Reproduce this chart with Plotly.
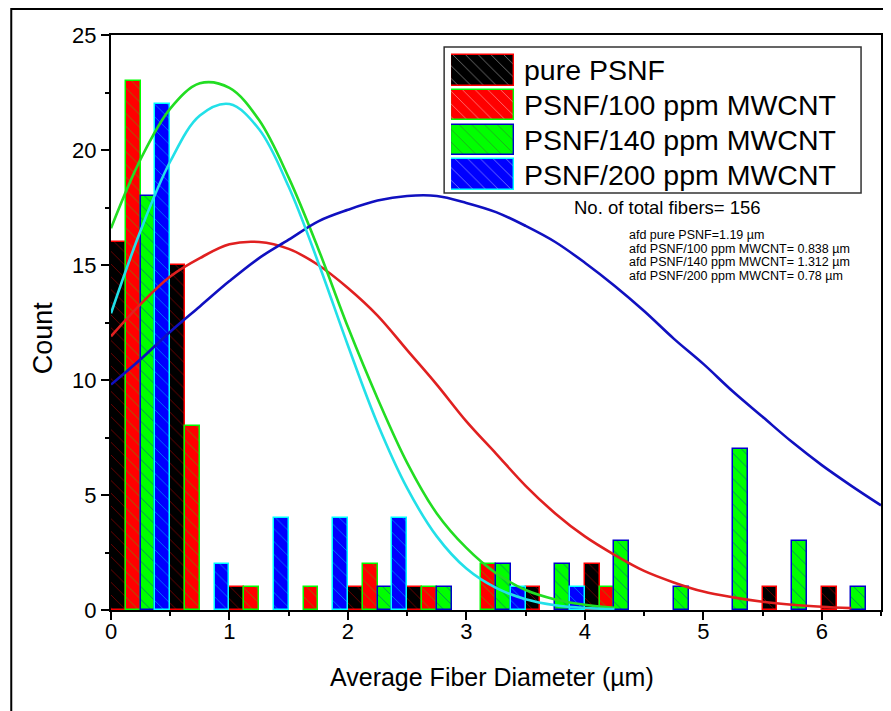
import plotly.graph_objects as go

# ---------------- data ----------------
bin_centers = [0.25, 0.75, 1.25, 1.75, 2.25, 2.75, 3.25, 3.75, 4.25, 4.75, 5.25, 5.75, 6.25]
series_names = ["pure PSNF", "PSNF/100 ppm MWCNT", "PSNF/140 ppm MWCNT", "PSNF/200 ppm MWCNT"]
counts_pure = [16, 15, 1, 0, 1, 1, 0, 1, 2, 0, 0, 1, 1]
counts_100 = [23, 8, 1, 1, 2, 1, 2, 0, 1, 0, 0, 0, 0]
counts_140 = [18, 0, 0, 0, 1, 1, 2, 2, 3, 1, 7, 3, 1]
counts_200 = [22, 2, 4, 4, 4, 0, 1, 1, 0, 0, 0, 0, 0]

# fitted distribution curves
curve_x = [0, 0.25, 0.5, 0.75, 1.0, 1.25, 1.5, 1.75, 2.0, 2.25, 2.5, 2.75, 3.0, 3.25,
           3.5, 3.75, 4.0, 4.25, 4.5, 4.75, 5.0, 5.25, 5.5, 5.75, 6.0, 6.25, 6.5]
fit_pure = [11.9, 13.3, 14.5, 15.3, 15.9, 16.0, 15.7, 15.0, 14.0, 12.8, 11.3, 9.8, 8.2, 6.8,
            5.4, 4.2, 3.2, 2.4, 1.7, 1.2, 0.8, 0.55, 0.36, 0.23, 0.14, 0.08]
fit_100 = [16.6, 19.6, 21.8, 22.9, 22.7, 21.3, 18.8, 15.7, 12.3, 9.2, 6.4, 4.2, 2.7, 1.6,
           0.87, 0.46, 0.23, 0.1]
fit_140 = [9.8, 10.9, 12.1, 13.2, 14.3, 15.3, 16.1, 16.9, 17.4, 17.8, 18.0, 18.0, 17.7, 17.3,
           16.7, 16.0, 15.1, 14.1, 13.0, 11.8, 10.7, 9.5, 8.4, 7.3, 6.3, 5.4, 4.55]
fit_200 = [12.9, 16.5, 19.5, 21.5, 22.0, 20.9, 18.4, 15.1, 11.5, 8.1, 5.3, 3.2, 1.8, 0.96,
           0.47, 0.21, 0.09, 0.04]

total_fibers = 156
afd_labels = ["afd pure PSNF=1.19 \u00b5m",
              "afd PSNF/100 ppm MWCNT= 0.838 \u00b5m",
              "afd PSNF/140 ppm MWCNT= 1.312 \u00b5m",
              "afd PSNF/200 ppm MWCNT= 0.78 \u00b5m"]

x_ticks = [0, 1, 2, 3, 4, 5, 6]
y_ticks = [0, 5, 10, 15, 20, 25]

# ---------------- styles ----------------
FONT = "Arial, Liberation Sans, sans-serif"
fills = ["#000000", "#ff0000", "#00ff00", "#0000ff"]
edges = ["#ff0000", "#00ff00", "#0000cc", "#00ffff"]
curve_colors = ["#e02020", "#22dd22", "#1010c0", "#22e0e8"]

# page body adds an 8px offset; lay out in window pixels
OFF = 8
WIN_W, WIN_H = 891, 711
PL, PR, PT, PB = 111, 883, 35, 610        # plot area in window pixels
W, H = WIN_W - OFF, WIN_H - OFF
ML, MR, MT, MB = PL - OFF, WIN_W - PR, PT - OFF, WIN_H - PB
PW, PH = PR - PL, PB - PT


def px(x):
    return (x - PL) / PW


def py(y):
    return (PB - y) / PH


fig = go.Figure()

all_counts = [counts_pure, counts_100, counts_140, counts_200]
for name, cnt, fc, ec in zip(series_names, all_counts, fills, edges):
    fig.add_trace(go.Bar(
        x=bin_centers, y=[v if v else None for v in cnt], name=name,
        marker=dict(color=fc, line=dict(color=ec, width=1.5),
                    pattern=dict(shape="\\", fgcolor=ec, fgopacity=0.45, size=9, solidity=0.1)),
        showlegend=False,
    ))

for fit, col in zip([fit_pure, fit_100, fit_140, fit_200], curve_colors):
    fig.add_trace(go.Scatter(
        x=curve_x[:len(fit)], y=fit, mode="lines", line=dict(color=col, width=2.6, shape="spline"),
        showlegend=False, hoverinfo="skip",
    ))

# legend key drawn as bars on a small auxiliary axis pair
fig.add_trace(go.Bar(
    x=[1] * len(series_names), y=series_names, orientation="h", base=0, width=0.88,
    marker=dict(color=fills, line=dict(color=edges, width=1.5),
                pattern=dict(shape="\\", fgcolor=edges, fgopacity=0.45, size=9, solidity=0.1)),
    xaxis="x2", yaxis="y2", showlegend=False, hoverinfo="skip",
))

fig.update_layout(
    width=W, height=H,
    margin=dict(l=ML, r=MR, t=MT, b=MB),
    paper_bgcolor="white", plot_bgcolor="white",
    barmode="group", bargap=0, bargroupgap=0,
    font=dict(family=FONT, color="black"),
    xaxis=dict(range=[0, 6.5], tickvals=x_ticks, showgrid=False, zeroline=False,
               showline=True, linecolor="black", linewidth=2, mirror=True,
               ticks="outside", ticklen=8, tickwidth=2, tickcolor="black",
               minor=dict(dtick=0.5, ticks="outside", ticklen=4, tickwidth=2, tickcolor="black"),
               ticklabelstandoff=-7, tickfont=dict(size=22)),
    yaxis=dict(range=[0, 25], tickvals=y_ticks, showgrid=False, zeroline=False,
               showline=True, linecolor="black", linewidth=2, mirror=True,
               ticks="outside", ticklen=8, tickwidth=2, tickcolor="black",
               minor=dict(dtick=2.5, ticks="outside", ticklen=4, tickwidth=2, tickcolor="black"),
               tickfont=dict(size=22)),
    xaxis2=dict(domain=[px(452), px(515)], range=[0, 1], anchor="y2", visible=False),
    yaxis2=dict(domain=[py(192), py(53)], anchor="x2", side="right", type="category",
                categoryorder="array", categoryarray=series_names, autorange="reversed",
                showgrid=False, zeroline=False, showline=False, ticks="",
                ticklabelstandoff=9, tickfont=dict(size=28.5, color="black")),
    shapes=[
        dict(type="rect", xref="paper", yref="paper", x0=px(445), x1=px(863), y0=py(193), y1=py(47),
             line=dict(color="#333333", width=1.5), fillcolor="white", layer="below"),
        dict(type="rect", xref="paper", yref="paper", x0=px(11), x1=px(WIN_W + 20),
             y0=py(WIN_H + 20), y1=py(9),
             line=dict(color="black", width=2), fillcolor="rgba(0,0,0,0)", layer="below"),
    ],
)

annotations = [
    dict(text="Average Fiber Diameter (\u00b5m)", x=px(493), y=py(677), font=dict(size=25)),
    dict(text="Count", x=px(43), y=py(338), textangle=-90, font=dict(size=27)),
    dict(text=f"No. of total fibers= {total_fibers}", x=px(573), y=py(208), xanchor="left",
         font=dict(size=18.5)),
]
for i, t in enumerate(afd_labels):
    annotations.append(dict(text=t, x=px(628), y=py(235 + 13.5 * i), xanchor="left",
                            font=dict(size=12.5)))
for a in annotations:
    a.update(xref="paper", yref="paper", showarrow=False)
    a.setdefault("xanchor", "center")
    a.setdefault("yanchor", "middle")
fig.update_layout(annotations=annotations)

fig.write_html("out.html")
